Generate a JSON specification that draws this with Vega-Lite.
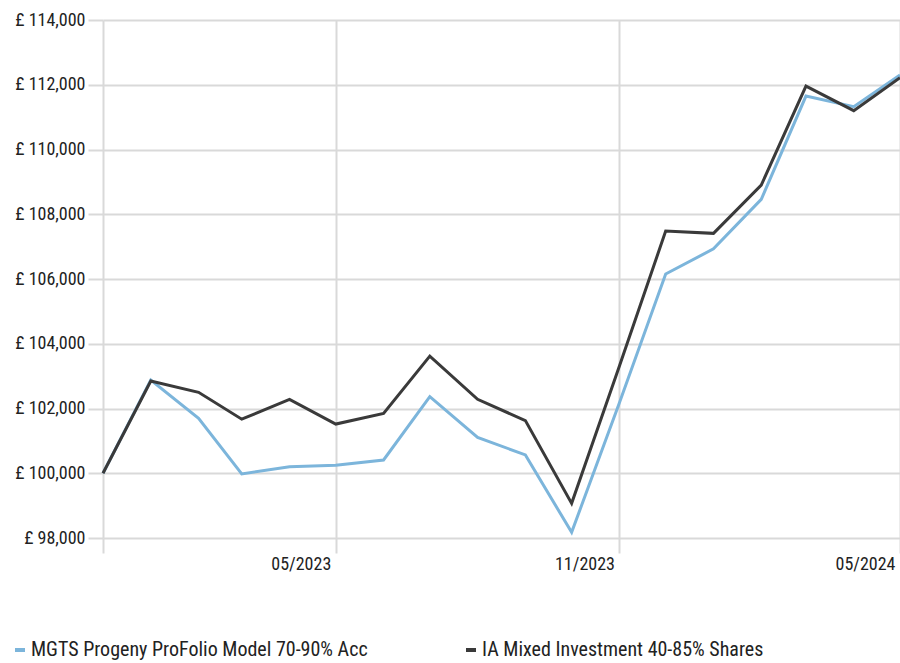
{
  "$schema": "https://vega.github.io/schema/vega-lite/v6.json",
  "autosize": "none",
  "width": 797,
  "height": 518,
  "padding": {"left": 103, "top": 20, "right": 0, "bottom": 125},
  "background": "white",
  "config": {
    "font": "'Roboto Condensed', 'DejaVu Sans Condensed', sans-serif",
    "view": {"stroke": null}
  },
  "data": {
    "values": [
      {"date": "2022-12-01", "series": "MGTS Progeny ProFolio Model 70-90% Acc", "value": 100000},
      {"date": "2023-01-01", "series": "MGTS Progeny ProFolio Model 70-90% Acc", "value": 102880},
      {"date": "2023-02-01", "series": "MGTS Progeny ProFolio Model 70-90% Acc", "value": 101700},
      {"date": "2023-03-01", "series": "MGTS Progeny ProFolio Model 70-90% Acc", "value": 99980},
      {"date": "2023-04-01", "series": "MGTS Progeny ProFolio Model 70-90% Acc", "value": 100200},
      {"date": "2023-05-01", "series": "MGTS Progeny ProFolio Model 70-90% Acc", "value": 100245},
      {"date": "2023-06-01", "series": "MGTS Progeny ProFolio Model 70-90% Acc", "value": 100410},
      {"date": "2023-07-01", "series": "MGTS Progeny ProFolio Model 70-90% Acc", "value": 102365},
      {"date": "2023-08-01", "series": "MGTS Progeny ProFolio Model 70-90% Acc", "value": 101110},
      {"date": "2023-09-01", "series": "MGTS Progeny ProFolio Model 70-90% Acc", "value": 100565},
      {"date": "2023-10-01", "series": "MGTS Progeny ProFolio Model 70-90% Acc", "value": 98175},
      {"date": "2023-11-01", "series": "MGTS Progeny ProFolio Model 70-90% Acc", "value": 102180},
      {"date": "2023-12-01", "series": "MGTS Progeny ProFolio Model 70-90% Acc", "value": 106155},
      {"date": "2024-01-01", "series": "MGTS Progeny ProFolio Model 70-90% Acc", "value": 106930},
      {"date": "2024-02-01", "series": "MGTS Progeny ProFolio Model 70-90% Acc", "value": 108460},
      {"date": "2024-03-01", "series": "MGTS Progeny ProFolio Model 70-90% Acc", "value": 111650},
      {"date": "2024-04-01", "series": "MGTS Progeny ProFolio Model 70-90% Acc", "value": 111320},
      {"date": "2024-05-01", "series": "MGTS Progeny ProFolio Model 70-90% Acc", "value": 112300},
      {"date": "2022-12-01", "series": "IA Mixed Investment 40-85% Shares", "value": 100000},
      {"date": "2023-01-01", "series": "IA Mixed Investment 40-85% Shares", "value": 102850},
      {"date": "2023-02-01", "series": "IA Mixed Investment 40-85% Shares", "value": 102500},
      {"date": "2023-03-01", "series": "IA Mixed Investment 40-85% Shares", "value": 101670},
      {"date": "2023-04-01", "series": "IA Mixed Investment 40-85% Shares", "value": 102280},
      {"date": "2023-05-01", "series": "IA Mixed Investment 40-85% Shares", "value": 101520},
      {"date": "2023-06-01", "series": "IA Mixed Investment 40-85% Shares", "value": 101850},
      {"date": "2023-07-01", "series": "IA Mixed Investment 40-85% Shares", "value": 103620},
      {"date": "2023-08-01", "series": "IA Mixed Investment 40-85% Shares", "value": 102285},
      {"date": "2023-09-01", "series": "IA Mixed Investment 40-85% Shares", "value": 101625},
      {"date": "2023-10-01", "series": "IA Mixed Investment 40-85% Shares", "value": 99070},
      {"date": "2023-11-01", "series": "IA Mixed Investment 40-85% Shares", "value": 103310},
      {"date": "2023-12-01", "series": "IA Mixed Investment 40-85% Shares", "value": 107480},
      {"date": "2024-01-01", "series": "IA Mixed Investment 40-85% Shares", "value": 107410},
      {"date": "2024-02-01", "series": "IA Mixed Investment 40-85% Shares", "value": 108900},
      {"date": "2024-03-01", "series": "IA Mixed Investment 40-85% Shares", "value": 111960},
      {"date": "2024-04-01", "series": "IA Mixed Investment 40-85% Shares", "value": 111200},
      {"date": "2024-05-01", "series": "IA Mixed Investment 40-85% Shares", "value": 112220}
    ]
  },
  "mark": {"type": "line", "strokeWidth": 3, "strokeJoin": "miter"},
  "encoding": {
    "x": {
      "field": "date",
      "type": "temporal",
      "scale": {"type": "utc", "nice": false},
      "axis": {
        "title": null,
        "values": [
          {"year": 2022, "month": 12, "date": 1, "utc": true},
          {"year": 2023, "month": 5, "date": 1, "utc": true},
          {"year": 2023, "month": 11, "date": 1, "utc": true},
          {"year": 2024, "month": 5, "date": 1, "utc": true}
        ],
        "labelExpr": "datum.index === 0 ? '' : utcFormat(datum.value, '%m/%Y')",
        "labelAlign": "right",
        "labelOffset": -5,
        "labelPadding": 2,
        "labelFontSize": 18,
        "labelColor": "#222222",
        "labelFlush": false,
        "labelOverlap": false,
        "tickSize": 15,
        "tickColor": "#d9d9d9",
        "tickWidth": 2,
        "domain": false,
        "grid": true,
        "gridColor": "#d9d9d9",
        "gridWidth": 2
      }
    },
    "y": {
      "field": "value",
      "type": "quantitative",
      "scale": {"domain": [98000, 114000], "nice": false, "zero": false},
      "axis": {
        "title": null,
        "values": [98000, 100000, 102000, 104000, 106000, 108000, 110000, 112000, 114000],
        "labelExpr": "'£ ' + format(datum.value, ',')",
        "labelFontSize": 18,
        "labelColor": "#222222",
        "labelPadding": 3,
        "tickSize": 15,
        "tickColor": "#d9d9d9",
        "tickWidth": 2,
        "domain": false,
        "grid": true,
        "gridColor": "#d9d9d9",
        "gridWidth": 2
      }
    },
    "color": {
      "field": "series",
      "type": "nominal",
      "sort": ["MGTS Progeny ProFolio Model 70-90% Acc", "IA Mixed Investment 40-85% Shares"],
      "scale": {
        "domain": ["MGTS Progeny ProFolio Model 70-90% Acc", "IA Mixed Investment 40-85% Shares"],
        "range": ["#7cb5db", "#3a3a3a"]
      },
      "legend": {
        "title": null,
        "orient": "none",
        "legendX": -93,
        "legendY": 620,
        "direction": "horizontal",
        "columns": 2,
        "gridAlign": "all",
        "columnPadding": 90,
        "labelFontSize": 20,
        "labelColor": "#222222",
        "labelLimit": 0,
        "labelOffset": 1,
        "symbolType": "stroke",
        "symbolSize": 100,
        "symbolStrokeWidth": 4
      }
    }
  }
}
